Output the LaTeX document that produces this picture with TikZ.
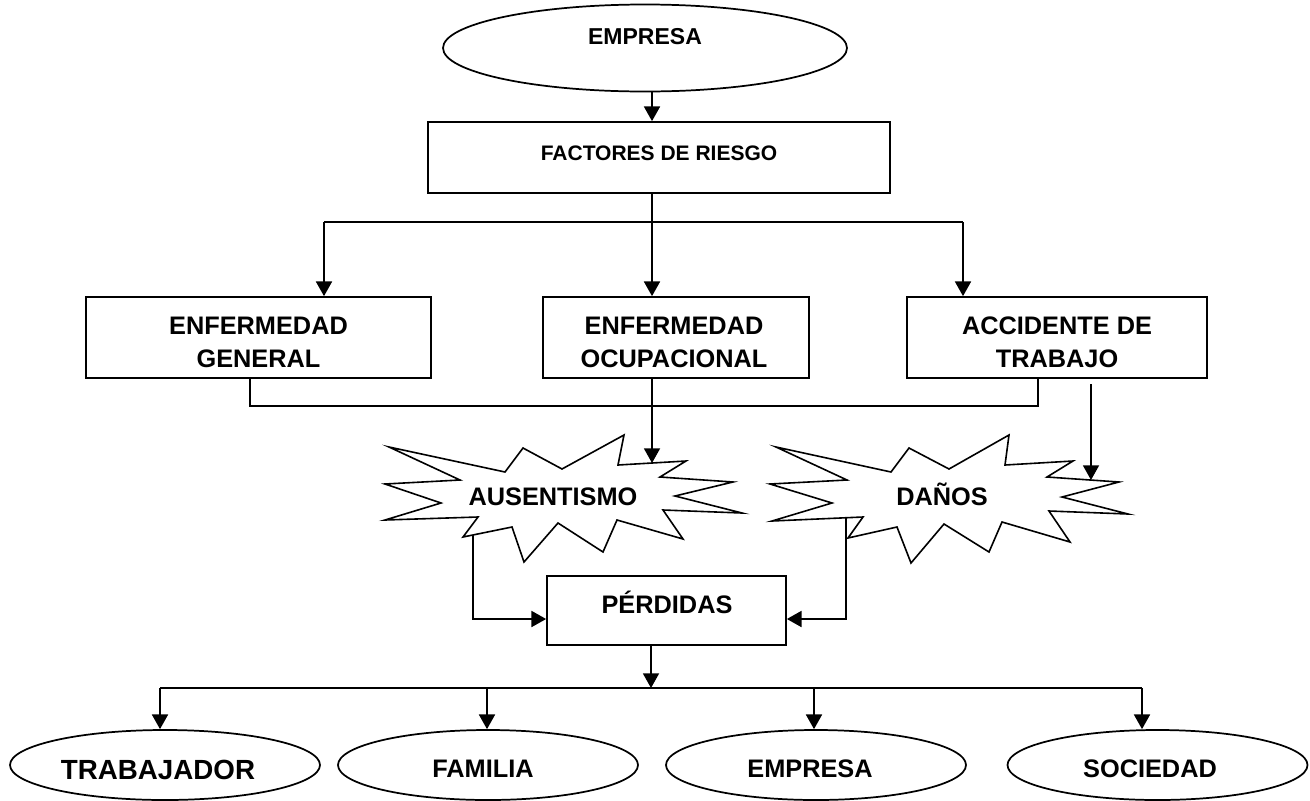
\documentclass[tikz,border=0pt]{standalone}
\usepackage{fontspec}
\setmainfont{Liberation Sans}
\usetikzlibrary{arrows.meta,shapes.geometric}
\begin{document}
\begin{tikzpicture}[x=0.75pt,y=-0.75pt,
  ln/.style={line width=1.3pt,line join=miter},
  arr/.style={ln,-{Triangle[length=11pt,width=12pt]}},
  boxnode/.style={draw,ln,rectangle,inner sep=0pt},
  ellnode/.style={draw,ln,ellipse,inner sep=0pt},
  burst/.style={draw,line width=1.2pt,line join=miter},
  lbl/.style={inner sep=0pt,align=center,font=\bfseries\fontsize{19pt}{24.75pt}\selectfont},
]
\fill[white] (0,0) rectangle (1310,800);
\useasboundingbox (0,0) rectangle (1310,800);

% ---- top
\node[ellnode,minimum width=303pt,minimum height=65.25pt] (emp) at (645,48) {};
\node[lbl,anchor=base,font=\bfseries\fontsize{17.25pt}{20pt}\selectfont] (empT) at (645,44) {EMPRESA};

\node[boxnode,minimum width=346.5pt,minimum height=53.25pt] (fac) at (659,157.5) {};
\node[lbl,anchor=base,font=\bfseries\fontsize{15.75pt}{19pt}\selectfont] (facT) at (659,160) {FACTORES DE RIESGO};

% ---- middle boxes
\node[boxnode,minimum width=258.75pt,minimum height=60.75pt] (eg) at (258.5,337.5) {};
\node[lbl] (egT) at (258.5,342) {ENFERMEDAD\\GENERAL};
\node[boxnode,minimum width=199.5pt,minimum height=60.75pt] (eo) at (676,337.5) {};
\node[lbl] (eoT) at (674,342) {ENFERMEDAD\\OCUPACIONAL};
\node[boxnode,minimum width=225pt,minimum height=60.75pt] (at) at (1057,337.5) {};
\node[lbl] (atT) at (1057,342) {ACCIDENTE DE\\TRABAJO};

% ---- starbursts
\draw[burst] (389,447) -- (505,472) -- (523,448) -- (562,469) -- (624,435) -- (618,465)
  -- (686,461) -- (660,477) -- (733,482) -- (675,496) -- (742,513) -- (663,510)
  -- (683,539) -- (617,520) -- (603,552) -- (558,523) -- (524,562) -- (512,527)
  -- (463,537) -- (478,517) -- (385,520) -- (441,503) -- (385,484) -- (460,480) -- cycle;
\node[lbl,anchor=base] (ausT) at (553,505) {AUSENTISMO};

\draw[burst] (776,447) -- (891,472) -- (909,448) -- (949,469) -- (1009,435) -- (1005,465)
  -- (1073,461) -- (1047,477) -- (1119,482) -- (1062,497) -- (1128,514) -- (1049,511)
  -- (1070,542) -- (1002,522) -- (989,552) -- (944,524) -- (911,563) -- (897,527)
  -- (848,538) -- (863,517) -- (772,521) -- (832,503) -- (770,484) -- (847,480) -- cycle;
\node[lbl,anchor=base] (danT) at (942,505) {DAÑOS};

% ---- perdidas
\node[boxnode,minimum width=179.25pt,minimum height=51.75pt] (per) at (666.5,610.5) {};
\node[lbl,anchor=base] (perT) at (667,613) {PÉRDIDAS};

% ---- bottom ellipses
\node[ellnode,minimum width=232.5pt,minimum height=52.5pt] (tra) at (165,765) {};
\node[lbl,anchor=base,font=\bfseries\fontsize{20.8pt}{24pt}\selectfont] (traT) at (158,779) {TRABAJADOR};
\node[ellnode,minimum width=225pt,minimum height=52.5pt] (fam) at (488,765) {};
\node[lbl,anchor=base] (famT) at (483,777) {FAMILIA};
\node[ellnode,minimum width=225pt,minimum height=52.5pt] (emb) at (816,765) {};
\node[lbl,anchor=base] (embT) at (810,777) {EMPRESA};
\node[ellnode,minimum width=225pt,minimum height=52.5pt] (soc) at (1157.5,765) {};
\node[lbl,anchor=base] (socT) at (1150,777) {SOCIEDAD};

% ---- coordinates
\coordinate (xm) at (652,0);
\coordinate (hL) at (324,222);
\coordinate (hR) at (963,222);
\coordinate (bL) at (250,406);
\coordinate (bR) at (1038,406);
\coordinate (ausIn) at (652,463);
\coordinate (atOut) at (1091,384);
\coordinate (danIn) at (1091,480);
\coordinate (ausOut) at (473,535);
\coordinate (danOut) at (846,518);
\coordinate (pY) at (0,619);
\coordinate (xp) at (651,0);
\coordinate (hb) at (651,688);
\coordinate (b1) at (160,688);
\coordinate (b2) at (487,688);
\coordinate (b3) at (814,688);
\coordinate (b4) at (1142,688);

% ---- connectors
\draw[arr] (emp.south -| xm) -- (fac.north -| xm);
\draw[ln] (hL) -- (hR);
\draw[arr] (hL) -- (eg.north -| hL);
\draw[arr] (hR) -- (at.north -| hR);
\draw[arr] (fac.south -| xm) -- (eo.north -| xm);
\draw[ln] (eg.south -| bL) -- (bL) -- (bR) -- (at.south -| bR);
\draw[arr] (eo.south -| xm) -- (ausIn);
\draw[arr] (atOut) -- (danIn);
\draw[arr] (ausOut) -- (ausOut |- pY) -- (per.west |- pY);
\draw[arr] (danOut) -- (danOut |- pY) -- (per.east |- pY);
\draw[arr] (per.south -| xp) -- (hb);
\draw[ln] (b1) -- (b4);
\draw[arr] (b1) -- (tra.north -| b1);
\draw[arr] (b2) -- (fam.north -| b2);
\draw[arr] (b3) -- (emb.north -| b3);
\draw[arr] (b4) -- (soc.north -| b4);
\end{tikzpicture}
\end{document}
